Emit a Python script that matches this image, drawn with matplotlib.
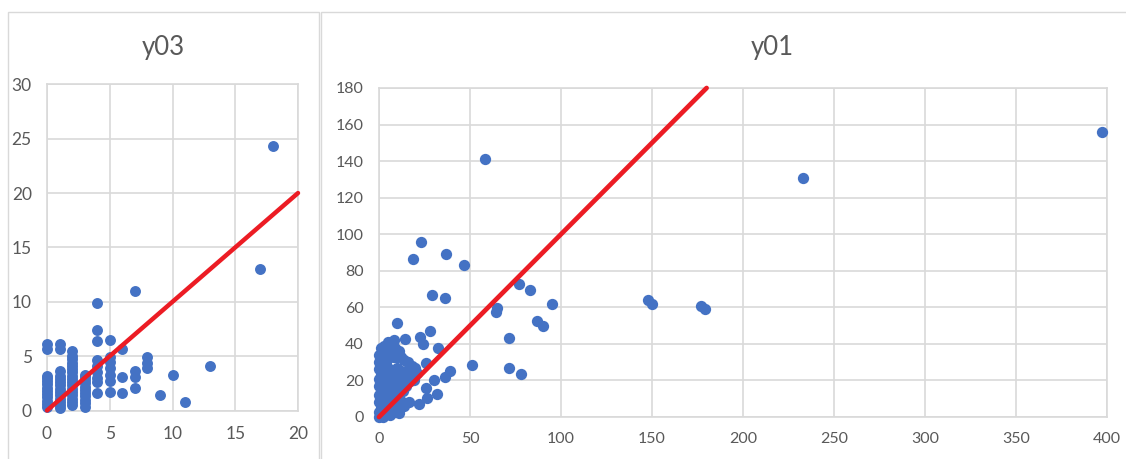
import matplotlib
matplotlib.use("Agg")
import matplotlib.pyplot as plt
from matplotlib.patches import Rectangle

# ---------------- data: y03 (left) ----------------
y03_x = ([0]*13 + [1]*14 + [2]*17 + [3]*11 + [4]*9 + [5]*7 + [6]*3 + [7]*4 + [8]*3
         + [9, 10, 11, 13, 17, 18])
y03_y = ([0.3, 0.6, 0.9, 1.2, 1.5, 1.8, 2.1, 2.4, 2.7, 3.0, 3.2, 5.7, 6.1]
         + [0.2, 0.5, 0.8, 1.1, 1.4, 1.7, 2.0, 2.3, 2.6, 2.9, 3.2, 3.6, 5.7, 6.1]
         + [0.5, 0.8, 1.1, 1.4, 1.7, 2.0, 2.3, 2.6, 2.9, 3.2, 3.5, 3.8, 4.1, 4.4, 4.7, 5.0, 5.5]
         + [0.3, 0.7, 1.0, 1.3, 1.6, 1.9, 2.2, 2.5, 2.8, 3.1, 3.3]
         + [1.6, 2.6, 3.0, 3.5, 4.1, 4.6, 6.4, 7.4, 9.9]
         + [1.7, 2.7, 3.3, 3.9, 4.5, 4.9, 6.5]
         + [1.65, 3.1, 5.7]
         + [2.1, 3.1, 3.6, 11.0]
         + [3.9, 4.4, 4.95]
         + [1.45, 3.3, 0.8, 4.1, 13.0, 24.3])
y03_ref = [0, 20]

# ---------------- data: y01 (right) ----------------
y01_x = [397, 233, 58, 148, 150, 177, 179, 95, 83, 77, 65, 64.5, 87, 90, 71.5, 51, 71.5, 78,
         23, 18.5, 37, 46.5, 29, 36, 10, 28, 22.5, 24, 32.5, 14.5, 39, 36, 30, 26, 32, 26.5,
         22, 16.5, 11, 26, 21, 17,
         0, 1, 2, 0, 1, 0, 2, 0, 1, 0, 2, 0, 1, 0, 2, 0, 1, 0, 2, 1, 3, 5, 8,
         3, 4, 5, 6, 3, 4, 6, 3, 5, 4, 6, 8, 10, 12, 14, 16, 18, 20, 7, 9, 11, 13, 15,
         8, 10, 12, 7, 9, 13, 15, 17, 19, 10, 12, 6, 9, 11, 3, 14, 6, 8]
y01_y = [156, 131, 141, 64, 62, 61, 59, 62, 69.5, 72.5, 59.5, 57.5, 52.5, 50, 43, 28.5, 27, 23.5,
         96, 86.5, 89, 83, 66.5, 65, 51.5, 47, 43.5, 40, 38, 42.5, 25, 22, 20, 16, 12.5, 10.5,
         7, 8, 2, 29.5, 24, 19.5,
         0, 1, 0, 3, 5, 8, 10, 12, 14, 17, 19, 21, 23, 26, 28, 30, 32, 34, 36, 38, 39, 41, 42,
         2, 6, 9, 12, 15, 18, 21, 24, 27, 30, 33, 33, 33, 33, 31, 30, 28, 27, 25, 22, 19, 22, 25,
         16, 12, 9, 5, 3, 14, 17, 22, 20, 27, 25, 36, 38, 36, 35, 6, 1, 7]
y01_ref = [0, 180]

W, H = 1126, 459
fig = plt.figure(figsize=(W / 100, H / 100), dpi=100)
fig.patch.set_facecolor("white")

FONT = ["Lato", "DejaVu Sans"]
TICKC = "#595959"
GRIDC = "#d9d9d9"
DOT = "#4472c4"
RED = "#ec1c24"

def px_rect(x0, y0, x1, y1):
    return [x0 / W, 1 - y1 / H, (x1 - x0) / W, (y1 - y0) / H]

# chart frames
for (x0, y0, x1, y1) in [(8, 12, 319, 470), (321, 12, 1135, 470)]:
    fig.patches.append(Rectangle((x0 / W, 1 - y1 / H), (x1 - x0) / W, (y1 - y0) / H,
                                 transform=fig.transFigure, fill=False,
                                 edgecolor=GRIDC, linewidth=1.0))

def style(ax, xlim, ylim, xt, yt, fs):
    ax.set_xlim(*xlim)
    ax.set_ylim(*ylim)
    ax.set_xticks(xt)
    ax.set_yticks(yt)
    ax.grid(True, color=GRIDC, linewidth=1.2, zorder=0)
    ax.set_axisbelow(True)
    for s in ax.spines.values():
        s.set_color(GRIDC)
        s.set_linewidth(1.2)
    ax.tick_params(length=0, pad=11, labelsize=fs, colors=TICKC)
    for lab in ax.get_xticklabels() + ax.get_yticklabels():
        lab.set_family(FONT)

# left chart
ax1 = fig.add_axes(px_rect(47, 84.3, 298, 410.5))
ax1.scatter(y03_x, y03_y, s=62, color=DOT, zorder=3, linewidths=0, clip_on=False)
ax1.plot(y03_ref, y03_ref, color=RED, linewidth=3.2, zorder=4, solid_capstyle="round",
         clip_on=False)
style(ax1, (0, 20), (0, 30), range(0, 21, 5), range(0, 31, 5), 12.5)
fig.text(163 / W, 1 - 48 / H, "y03", ha="center", va="center", fontsize=18.5,
         color="#595959", family=FONT)

# right chart
ax2 = fig.add_axes(px_rect(379, 88, 1107, 417))
ax2.scatter(y01_x, y01_y, s=66, color=DOT, zorder=3, linewidths=0, clip_on=False)
ax2.plot(y01_ref, y01_ref, color=RED, linewidth=3.4, zorder=4, solid_capstyle="round",
         clip_on=False)
style(ax2, (0, 400), (0, 180), range(0, 401, 50), range(0, 181, 20), 11.5)
fig.text(772 / W, 1 - 47 / H, "y01", ha="center", va="center", fontsize=18.5,
         color="#595959", family=FONT)

fig.savefig("out.png", dpi=100, facecolor="white")
